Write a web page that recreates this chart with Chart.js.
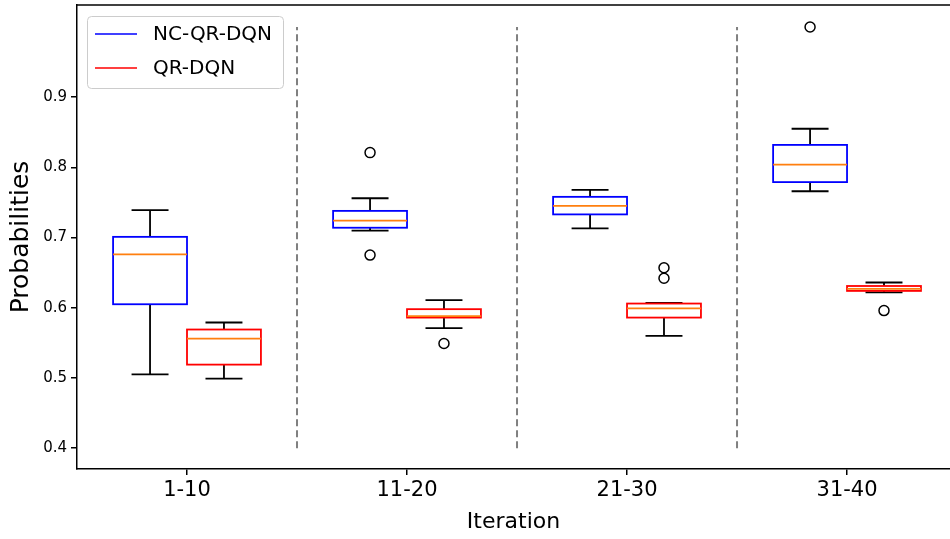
<!DOCTYPE html>
<html>
<head>
<meta charset="utf-8">
<script src="https://cdn.jsdelivr.net/npm/chart.js@4.4.1/dist/chart.umd.min.js"></script>
<style>
  html, body { margin: 0; padding: 0; background: #fff; }
  canvas { display: block; }
</style>
</head>
<body>
<canvas id="boxChart" width="950" height="539"></canvas>
<script>
// categories and tick labels
const categories = ['1-10', '11-20', '21-30', '31-40'];
const yTicks = [0.4, 0.5, 0.6, 0.7, 0.8, 0.9];
const seriesNames = ['NC-QR-DQN', 'QR-DQN'];

// NC-QR-DQN (whisker low, q1, median, q3, whisker high, outliers)
const ncLow = [0.505, 0.710, 0.713, 0.766];
const ncQ1 = [0.605, 0.714, 0.733, 0.779];
const ncMedian = [0.676, 0.724, 0.745, 0.804];
const ncQ3 = [0.701, 0.738, 0.758, 0.832];
const ncHigh = [0.739, 0.756, 0.768, 0.855];
const ncOutliers = [[], [0.821, 0.675], [], [1.000]];

// QR-DQN
const qrLow = [0.499, 0.571, 0.560, 0.622];
const qrQ1 = [0.519, 0.586, 0.586, 0.624];
const qrMedian = [0.556, 0.588, 0.599, 0.627];
const qrQ3 = [0.569, 0.598, 0.606, 0.631];
const qrHigh = [0.579, 0.611, 0.607, 0.636];
const qrOutliers = [[], [0.549], [0.657, 0.642], [0.596]];

const FONT = "'DejaVu Sans', sans-serif";
const BOX_OFFSET = 0.168;   // in x units, from category center
const BOX_HALF = 0.168;
const CAP_HALF = 0.084;

const series = [
    { name: seriesNames[0], color: '#0000ff', off: -BOX_OFFSET, low: ncLow, q1: ncQ1, med: ncMedian, q3: ncQ3, high: ncHigh },
    { name: seriesNames[1], color: '#ff0000', off: BOX_OFFSET, low: qrLow, q1: qrQ1, med: qrMedian, q3: qrQ3, high: qrHigh }
];

function outlierPoints(list, off) {
    const pts = [];
    list.forEach((vals, i) => vals.forEach(v => pts.push({ x: i + 1 + off, y: v })));
    return pts;
}

// no extra room for tick label overflow
function noPad(scale) {
    scale.paddingTop = 0;
    scale.paddingBottom = 0;
    scale.paddingLeft = 0;
    scale.paddingRight = 0;
}

// boxes, whiskers, separators
const boxPlugin = {
    id: 'boxes',
    beforeDatasetsDraw(chart) {
        const { ctx, scales: { x, y } } = chart;
        ctx.save();

        // dashed separators between groups
        ctx.strokeStyle = '#808080';
        ctx.lineWidth = 2;
        ctx.setLineDash([7, 4]);
        for (let i = 1; i < categories.length; i++) {
            const px = x.getPixelForValue(i + 0.5);
            ctx.beginPath();
            ctx.moveTo(px, y.getPixelForValue(0.4));
            ctx.lineTo(px, y.getPixelForValue(1.0));
            ctx.stroke();
        }
        ctx.setLineDash([]);

        series.forEach(s => {
            categories.forEach((c, i) => {
                const cx = i + 1 + s.off;
                const xl = x.getPixelForValue(cx - BOX_HALF);
                const xr = x.getPixelForValue(cx + BOX_HALF);
                const xm = x.getPixelForValue(cx);
                const cl = x.getPixelForValue(cx - CAP_HALF);
                const cr = x.getPixelForValue(cx + CAP_HALF);
                const yLow = y.getPixelForValue(s.low[i]);
                const yQ1 = y.getPixelForValue(s.q1[i]);
                const yMed = y.getPixelForValue(s.med[i]);
                const yQ3 = y.getPixelForValue(s.q3[i]);
                const yHigh = y.getPixelForValue(s.high[i]);

                // whiskers + caps
                ctx.strokeStyle = '#000000';
                ctx.lineWidth = 1.8;
                ctx.beginPath();
                ctx.moveTo(xm, yQ1); ctx.lineTo(xm, yLow);
                ctx.moveTo(xm, yQ3); ctx.lineTo(xm, yHigh);
                ctx.moveTo(cl, yLow); ctx.lineTo(cr, yLow);
                ctx.moveTo(cl, yHigh); ctx.lineTo(cr, yHigh);
                ctx.stroke();

                // box
                ctx.strokeStyle = s.color;
                ctx.lineWidth = 1.8;
                ctx.strokeRect(xl, yQ3, xr - xl, yQ1 - yQ3);

                // median
                ctx.strokeStyle = '#ff7f0e';
                ctx.beginPath();
                ctx.moveTo(xl, yMed); ctx.lineTo(xr, yMed);
                ctx.stroke();
            });
        });
        ctx.restore();
    },
    afterDraw(chart) {
        const { ctx, chartArea } = chart;
        ctx.save();
        // top spine
        ctx.strokeStyle = '#000000';
        ctx.lineWidth = 1.5;
        ctx.beginPath();
        ctx.moveTo(chartArea.left, chartArea.top);
        ctx.lineTo(chartArea.right, chartArea.top);
        ctx.stroke();

        // legend
        const lx = 87, ly = 16, lw = 196, lh = 72;
        ctx.fillStyle = 'rgba(255,255,255,0.8)';
        ctx.strokeStyle = '#cccccc';
        ctx.lineWidth = 1;
        ctx.beginPath();
        ctx.roundRect(lx + 0.5, ly + 0.5, lw, lh, 4);
        ctx.fill();
        ctx.stroke();
        ctx.font = '20px ' + FONT;
        ctx.textBaseline = 'middle';
        ctx.textAlign = 'left';
        series.forEach((s, k) => {
            const yy = 34 + k * 34;
            ctx.strokeStyle = s.color;
            ctx.lineWidth = 1.5;
            ctx.beginPath();
            ctx.moveTo(95, yy);
            ctx.lineTo(137, yy);
            ctx.stroke();
            ctx.fillStyle = '#000000';
            ctx.fillText(s.name, 153, yy + 1);
        });
        ctx.restore();
    }
};

new Chart(document.getElementById('boxChart'), {
    type: 'scatter',
    data: {
        datasets: [
            {
                label: seriesNames[0],
                data: outlierPoints(ncOutliers, -BOX_OFFSET),
                pointRadius: 5,
                borderColor: '#000000',
                backgroundColor: 'rgba(0,0,0,0)',
                borderWidth: 1.5
            },
            {
                label: seriesNames[1],
                data: outlierPoints(qrOutliers, BOX_OFFSET),
                pointRadius: 5,
                borderColor: '#000000',
                backgroundColor: 'rgba(0,0,0,0)',
                borderWidth: 1.5
            }
        ]
    },
    options: {
        responsive: false,
        animation: false,
        layout: { autoPadding: false, padding: { top: 5, right: 0, left: 0, bottom: 0 } },
        plugins: {
            legend: { display: false },
            tooltip: { enabled: false }
        },
        scales: {
            x: {
                type: 'linear',
                min: 0.5,
                max: 4.468,
                afterBuildTicks: (scale) => {
                    scale.ticks = categories.map((c, i) => ({ value: i + 1 }));
                },
                afterFit: (scale) => { scale.height = 70; noPad(scale); },
                grid: { drawOnChartArea: false, drawTicks: true, tickLength: 6, color: '#000000', lineWidth: 1.5 },
                border: { display: true, color: '#000000', width: 1.5 },
                ticks: {
                    autoSkip: false,
                    maxRotation: 0,
                    padding: 3,
                    color: '#000000',
                    font: { family: FONT, size: 21 },
                    callback: (v) => categories[Math.round(v) - 1]
                },
                title: {
                    display: true,
                    text: 'Iteration',
                    color: '#000000',
                    font: { family: FONT, size: 22 },
                    padding: { top: 0, bottom: 4 }
                }
            },
            y: {
                min: 0.3703,
                max: 1.0313,
                afterBuildTicks: (scale) => {
                    scale.ticks = yTicks.map(v => ({ value: v }));
                },
                afterFit: (scale) => { scale.width = 77; noPad(scale); },
                grid: { drawOnChartArea: false, drawTicks: true, tickLength: 6, color: '#000000', lineWidth: 1.5 },
                border: { display: true, color: '#000000', width: 1.5 },
                ticks: {
                    padding: 4,
                    color: '#000000',
                    font: { family: FONT, size: 15 },
                    callback: (v) => v.toFixed(1)
                },
                title: {
                    display: true,
                    text: 'Probabilities',
                    color: '#000000',
                    font: { family: FONT, size: 25 },
                    padding: { top: 6, bottom: 0 }
                }
            }
        }
    },
    plugins: [boxPlugin]
});
</script>
</body>
</html>
